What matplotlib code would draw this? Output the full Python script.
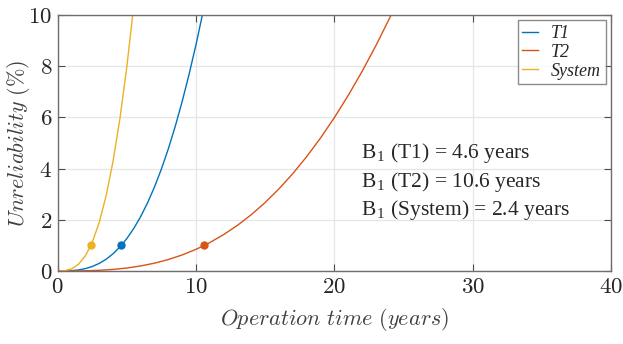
import matplotlib
matplotlib.use("Agg")
import matplotlib.pyplot as plt

plt.rcParams['mathtext.fontset'] = 'cm'
plt.rcParams['font.family'] = 'Liberation Serif'

# Unreliability (%) (years)
t1_time = [0, 0.5, 1, 1.5, 2, 2.5, 3, 3.5, 4, 4.6, 5, 5.5, 6, 6.5, 7, 7.5,
           8, 8.5, 9, 9.5, 10, 10.5, 11]
t1_unrel = [0, 0.0018, 0.0128, 0.041, 0.093, 0.176, 0.296, 0.459, 0.672, 1.00,
            1.268, 1.662, 2.126, 2.665, 3.285, 3.986, 4.775, 5.652, 6.624,
            7.687, 8.844, 10.10, 11.45]

t2_time = [0, 1, 2, 3, 4, 5, 6, 7, 8, 9, 10, 10.6, 11, 12, 13, 14, 15, 16, 17,
           18, 19, 20, 21, 22, 23, 24, 25, 26]
t2_unrel = [0, 0.0012, 0.0085, 0.027, 0.062, 0.117, 0.197, 0.306, 0.448, 0.627,
            0.847, 1.00, 1.111, 1.423, 1.785, 2.202, 2.676, 3.210, 3.806,
            4.467, 5.194, 5.990, 6.854, 7.791, 8.799, 9.882, 11.03, 12.26]

sys_time = [0, 0.5, 1, 1.5, 2, 2.4, 2.5, 3, 3.5, 4, 4.5, 5, 5.5, 6]
sys_unrel = [0, 0.011, 0.081, 0.259, 0.593, 1.00, 1.124, 1.893, 2.935, 4.282,
             5.959, 7.985, 10.37, 13.12]

# B1 life of each item (1 % unreliability)
b1_names = ['T1', 'T2', 'System']
b1_years = [4.6, 10.6, 2.4]
b1_level = 1.0

colors = ['#0072BD', '#D95319', '#EDB120']
ink = '#262626'

fig = plt.figure(figsize=(6.23, 3.44), dpi=100)
ax = fig.add_axes([0.0926, 0.2122, 0.8881, 0.7442])

series = [(t1_time, t1_unrel), (t2_time, t2_unrel), (sys_time, sys_unrel)]
for (x, y), name, c in zip(series, b1_names, colors):
    ax.plot(x, y, color=c, lw=1.0, label=name)
for b1, c in zip(b1_years, colors):
    ax.plot(b1, b1_level, 'o', color=c, ms=5, mec=c)

ax.set_xlim(0, 40)
ax.set_ylim(0, 10)
ax.set_xticks([0, 10, 20, 30, 40])
ax.set_yticks([0, 2, 4, 6, 8, 10])
ax.set_xticklabels([f'${v}$' for v in [0, 10, 20, 30, 40]])
ax.set_yticklabels([f'${v}$' for v in [0, 2, 4, 6, 8, 10]])
ax.tick_params(direction='in', length=5, width=0.8, colors='#4d4d4d',
               labelcolor=ink, labelsize=16.5, top=True, right=True, pad=4)
ax.grid(True, color='#e6e6e6', lw=0.9)
ax.set_axisbelow(True)
for sp in ax.spines.values():
    sp.set_color('#6e6e6e')
    sp.set_linewidth(1.0)

ax.set_xlabel(r'$Operation\ time\ (years)$', fontsize=16, color='#404040',
              labelpad=6)
ax.set_ylabel(r'$Unreliability\ (\%)$', fontsize=16, color='#404040',
              labelpad=-3)

leg = ax.legend(loc='upper right', prop={'style': 'italic', 'size': 13},
                frameon=True, fancybox=False, handlelength=0.9, handletextpad=0.7,
                borderpad=0.25, labelspacing=0.1, borderaxespad=0.3)
leg.get_frame().set_edgecolor('#6e6e6e')
leg.get_frame().set_linewidth(1.0)
for txt in leg.get_texts():
    txt.set_color(ink)

for i, (name, b1) in enumerate(zip(b1_names, b1_years)):
    ax.text(21.9, 4.40 - 1.1 * i, r'B$_{\mathregular{1}}$' + f' ({name}) = {b1} years',
            fontsize=15.5, color=ink, va='baseline', ha='left')

fig.savefig('out.png', dpi=100)
